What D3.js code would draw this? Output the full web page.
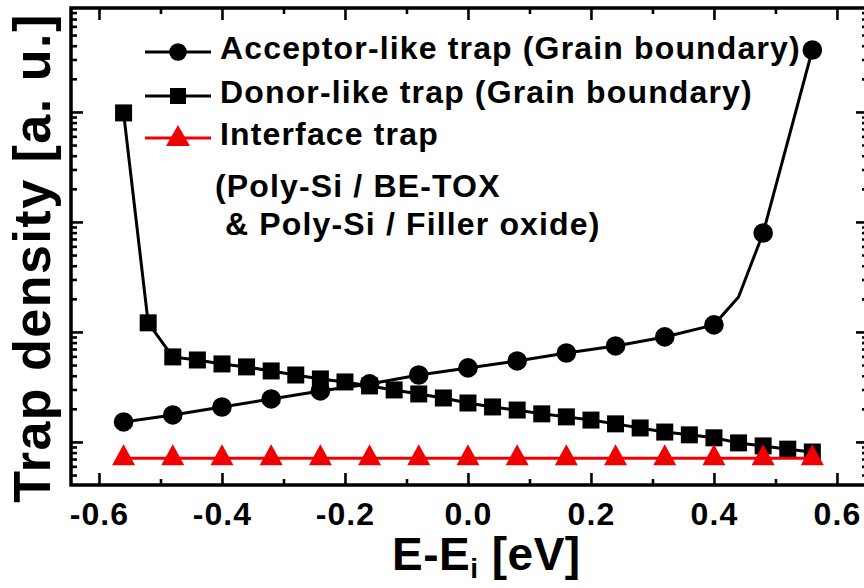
<!DOCTYPE html>
<html>
<head>
<meta charset="utf-8">
<script src="https://cdn.jsdelivr.net/npm/d3@7/dist/d3.min.js"></script>
<style>
  html, body { margin: 0; padding: 0; background: #fff; }
  svg { display: block; }
  text { font-family: "Liberation Sans", Arial, sans-serif; font-weight: bold; fill: #000; }
</style>
</head>
<body>
<svg id="chart" width="864" height="588"></svg>
<script>
// Energy relative to intrinsic level (eV) and trap densities (arbitrary units)
const acceptorE = [-0.56, -0.48, -0.40, -0.32, -0.24, -0.16, -0.08, 0.00, 0.08, 0.16, 0.24, 0.32, 0.40, 0.48, 0.56];
const acceptorDensity = [15.2, 17.6, 20.8, 24.6, 29.1, 33.7, 40.6, 47.1, 54.5, 64.4, 74.6, 90.1, 116, 794, 36600];
// knee of the acceptor curve (line vertex, no marker)
const acceptorKneeE = [0.44];
const acceptorKneeDensity = [208];

const donorE = [-0.56, -0.52, -0.48, -0.44, -0.40, -0.36, -0.32, -0.28, -0.24, -0.20, -0.16, -0.12, -0.08, -0.04,
                0.00, 0.04, 0.08, 0.12, 0.16, 0.20, 0.24, 0.28, 0.32, 0.36, 0.40, 0.44, 0.48, 0.52, 0.56];
const donorDensity = [9800, 121, 59.3, 55.6, 51.2, 48.1, 44.2, 40.6, 37.4, 35.1, 32.3, 29.7, 27.3, 25.1,
                      22.6, 20.8, 19.5, 18.0, 16.9, 15.8, 14.6, 13.4, 12.3, 11.6, 10.9, 9.8, 9.2, 8.6, 8.1];

const interfaceE = [-0.56, -0.48, -0.40, -0.32, -0.24, -0.16, -0.08, 0.00, 0.08, 0.16, 0.24, 0.32, 0.40, 0.48, 0.56];
const interfaceDensity = [7.1, 7.1, 7.1, 7.1, 7.1, 7.1, 7.1, 7.1, 7.1, 7.1, 7.1, 7.1, 7.1, 7.1, 7.1];

const xMajorTicks = [-0.6, -0.4, -0.2, 0.0, 0.2, 0.4, 0.6];
const xMinorTicks = [-0.5, -0.3, -0.1, 0.1, 0.3, 0.5];
const xDomain = [-0.6455, 0.6505];
const yDomain = [4.06, 88100];

const legendLabels = ["Acceptor-like trap (Grain boundary)", "Donor-like trap (Grain boundary)", "Interface trap"];
const legendNote = ["(Poly-Si / BE-TOX", " & Poly-Si / Filler oxide)"];

const RED = "#f00000";
const svg = d3.select("#chart");
const frame = { left: 71, right: 868, top: 8, bottom: 485 };

const x = d3.scaleLinear().domain(xDomain).range([frame.left, frame.right]);
const y = d3.scaleLog().domain(yDomain).range([frame.bottom, frame.top]);

// ---- axes (ticks point inward on all four sides) ----
const yAll = y.ticks();
const yMajor = yAll.filter(v => Math.abs(Math.log10(v) - Math.round(Math.log10(v))) < 1e-9);
const yMinor = yAll.filter(v => !yMajor.includes(v));

function tickAxis(axisFn, scale, values, size, transform) {
  const g = svg.append("g").attr("transform", transform)
    .call(axisFn(scale).tickValues(values).tickSize(-size).tickSizeOuter(0).tickFormat(""));
  g.select(".domain").remove();
  g.selectAll(".tick line").attr("stroke", "#000").attr("stroke-width", 2.6);
  return g;
}
tickAxis(d3.axisBottom, x, xMajorTicks, 12, `translate(0,${frame.bottom})`);
tickAxis(d3.axisBottom, x, xMinorTicks, 6, `translate(0,${frame.bottom})`);
tickAxis(d3.axisTop, x, xMajorTicks, 12, `translate(0,${frame.top})`);
tickAxis(d3.axisTop, x, xMinorTicks, 6, `translate(0,${frame.top})`);
tickAxis(d3.axisLeft, y, yMajor, 12, `translate(${frame.left},0)`);
tickAxis(d3.axisLeft, y, yMinor, 6, `translate(${frame.left},0)`);
tickAxis(d3.axisRight, y, yMajor, 12, `translate(${frame.right},0)`);
tickAxis(d3.axisRight, y, yMinor, 6, `translate(${frame.right},0)`);

// x tick labels
const xLab = svg.append("g").attr("transform", `translate(0,${frame.bottom})`)
  .call(d3.axisBottom(x).tickValues(xMajorTicks).tickSize(0).tickPadding(17)
    .tickFormat(d => (Math.abs(d) < 1e-9 ? 0 : d).toFixed(1)));
xLab.select(".domain").remove();
xLab.selectAll("text").attr("font-size", 32).attr("letter-spacing", 1.1)
  .style("font-family", "'Liberation Sans', Arial, sans-serif").style("font-weight", "bold").attr("fill", "#000");

// frame
svg.append("rect")
  .attr("x", frame.left).attr("y", frame.top)
  .attr("width", frame.right - frame.left).attr("height", frame.bottom - frame.top)
  .attr("fill", "none").attr("stroke", "#000").attr("stroke-width", 3.5);

// ---- axis titles ----
const xt = svg.append("text").attr("x", 392).attr("y", 570).attr("font-size", 46).attr("letter-spacing", 0.5);
xt.append("tspan").text("E-E");
xt.append("tspan").attr("font-size", 28).attr("dy", 8).text("i");
xt.append("tspan").attr("dy", -8).text(" [eV]");

svg.append("text")
  .attr("transform", "translate(50,258) rotate(-90)")
  .attr("text-anchor", "middle")
  .attr("font-size", 52).attr("letter-spacing", 1.5)
  .text("Trap density [a. u.]");

// ---- marker shapes ----
const triPath = (w, h) => `M0,${-2 * h / 3}L${w / 2},${h / 3}L${-w / 2},${h / 3}Z`;

function drawCircles(g, pts, r) {
  g.selectAll(null).data(pts).join("circle")
    .attr("cx", d => d[0]).attr("cy", d => d[1]).attr("r", r).attr("fill", "#000");
}
function drawSquares(g, pts, s) {
  g.selectAll(null).data(pts).join("rect")
    .attr("x", d => d[0] - s / 2).attr("y", d => d[1] - s / 2)
    .attr("width", s).attr("height", s).attr("fill", "#000");
}
function drawTriangles(g, pts, w, h, color) {
  g.selectAll(null).data(pts).join("path")
    .attr("d", triPath(w, h))
    .attr("transform", d => `translate(${d[0]},${d[1]})`)
    .attr("fill", color);
}

const line = d3.line();
const plot = svg.append("g");

// donor-like trap
const donorPts = donorE.map((e, i) => [x(e), y(donorDensity[i])]);
plot.append("path").attr("d", line(donorPts)).attr("fill", "none")
  .attr("stroke", "#000").attr("stroke-width", 3).attr("stroke-linejoin", "round");
drawSquares(plot.append("g"), donorPts, 17);

// acceptor-like trap
const acceptorPts = acceptorE.map((e, i) => [x(e), y(acceptorDensity[i])]);
const acceptorLinePts = acceptorPts
  .concat(acceptorKneeE.map((e, i) => [x(e), y(acceptorKneeDensity[i])]))
  .sort((a, b) => a[0] - b[0]);
plot.append("path").attr("d", line(acceptorLinePts)).attr("fill", "none")
  .attr("stroke", "#000").attr("stroke-width", 3).attr("stroke-linejoin", "round");
drawCircles(plot.append("g"), acceptorPts, 9.8);

// interface trap
const interfacePts = interfaceE.map((e, i) => [x(e), y(interfaceDensity[i])]);
plot.append("path").attr("d", line(interfacePts)).attr("fill", "none")
  .attr("stroke", RED).attr("stroke-width", 3);
drawTriangles(plot.append("g"), interfacePts, 23, 21, RED);

// ---- legend ----
const legend = svg.append("g");
const rowsY = [52, 96, 138];
const legendText = (tx, ty, s) => legend.append("text").attr("x", tx).attr("y", ty)
  .attr("font-size", 32).attr("letter-spacing", 1.15).attr("xml:space", "preserve").text(s);

rowsY.forEach((ry, i) => {
  const color = i === 2 ? RED : "#000";
  legend.append("line").attr("x1", 145).attr("x2", 211).attr("y1", ry).attr("y2", ry)
    .attr("stroke", color).attr("stroke-width", 3);
  const g = legend.append("g");
  if (i === 0) drawCircles(g, [[178, ry]], 8.8);
  if (i === 1) drawSquares(g, [[178, ry]], 16);
  if (i === 2) drawTriangles(g, [[178, ry + 1]], 24, 21, RED);
  legendText(220, ry + 7, legendLabels[i]);
});
legendText(215, 197, legendNote[0]);
legendText(215, 235, legendNote[1]);
</script>
</body>
</html>
